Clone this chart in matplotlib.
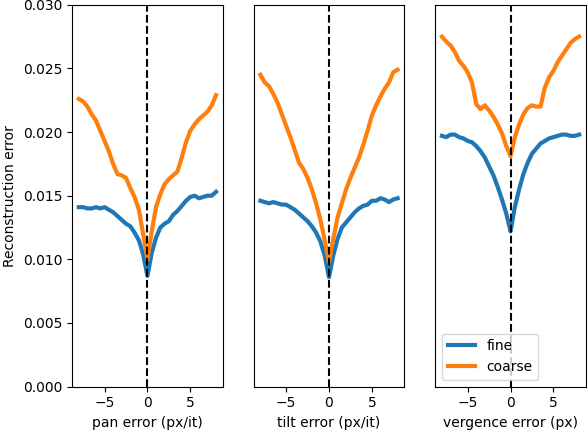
import matplotlib
matplotlib.use('Agg')
import matplotlib.pyplot as plt
import numpy as np

# offsets from -8 to 8 in steps of 0.5
errors = np.arange(-8, 8.01, 0.5)

pan_fine = [0.0141, 0.0141, 0.0140, 0.0140, 0.0141, 0.0140, 0.0141, 0.0139, 0.0137,
            0.0134, 0.0131, 0.0128, 0.0126, 0.0121, 0.0115, 0.0104, 0.0087, 0.0105,
            0.0117, 0.0125, 0.0128, 0.0130, 0.0135, 0.0138, 0.0142, 0.0146, 0.0149,
            0.0150, 0.0148, 0.0149, 0.0150, 0.0150, 0.0153]
pan_coarse = [0.0226, 0.0224, 0.0220, 0.0214, 0.0209, 0.0201, 0.0193, 0.0185, 0.0175,
              0.0167, 0.0166, 0.0164, 0.0156, 0.0149, 0.0139, 0.0120, 0.0100, 0.0122,
              0.0141, 0.0151, 0.0159, 0.0163, 0.0166, 0.0169, 0.0180, 0.0192, 0.0201,
              0.0206, 0.0210, 0.0213, 0.0216, 0.0221, 0.0229]

tilt_fine = [0.0146, 0.0145, 0.0144, 0.0145, 0.0144, 0.0143, 0.0143, 0.0141, 0.0139,
             0.0136, 0.0133, 0.0130, 0.0126, 0.0121, 0.0114, 0.0103, 0.0086, 0.0103,
             0.0116, 0.0125, 0.0129, 0.0133, 0.0137, 0.0140, 0.0142, 0.0143, 0.0146,
             0.0146, 0.0148, 0.0147, 0.0145, 0.0147, 0.0148]
tilt_coarse = [0.0245, 0.0239, 0.0236, 0.0230, 0.0223, 0.0214, 0.0205, 0.0196, 0.0186,
               0.0176, 0.0171, 0.0164, 0.0155, 0.0144, 0.0131, 0.0115, 0.0098, 0.0116,
               0.0133, 0.0144, 0.0155, 0.0164, 0.0172, 0.0180, 0.0190, 0.0201, 0.0213,
               0.0221, 0.0228, 0.0234, 0.0239, 0.0247, 0.0249]

verg_fine = [0.0197, 0.0196, 0.0198, 0.0198, 0.0196, 0.0195, 0.0193, 0.0192, 0.0189,
             0.0185, 0.0180, 0.0173, 0.0166, 0.0157, 0.0147, 0.0136, 0.0122, 0.0141,
             0.0155, 0.0167, 0.0176, 0.0183, 0.0187, 0.0191, 0.0193, 0.0195, 0.0196,
             0.0197, 0.0198, 0.0198, 0.0197, 0.0197, 0.0198]
verg_coarse = [0.0275, 0.0271, 0.0268, 0.0263, 0.0256, 0.0252, 0.0247, 0.0239, 0.0222,
               0.0218, 0.0221, 0.0217, 0.0212, 0.0206, 0.0199, 0.0189, 0.0181, 0.0196,
               0.0206, 0.0214, 0.0219, 0.0221, 0.0220, 0.0220, 0.0235, 0.0243, 0.0248,
               0.0255, 0.0260, 0.0265, 0.0270, 0.0273, 0.0275]

xlabels = ['pan error (px/it)', 'tilt error (px/it)', 'vergence error (px)']
fine_sets = [pan_fine, tilt_fine, verg_fine]
coarse_sets = [pan_coarse, tilt_coarse, verg_coarse]

fig, axes = plt.subplots(1, 3, sharey=True, figsize=(5.88, 4.32), dpi=100)
fig.subplots_adjust(left=0.1224, right=0.9966, bottom=0.105, top=0.989, wspace=0.203)

for ax, lab, fine, coarse in zip(axes, xlabels, fine_sets, coarse_sets):
    ax.plot(errors, fine, color='C0', linewidth=3, label='fine')
    ax.plot(errors, coarse, color='C1', linewidth=3, label='coarse')
    ax.axvline(0, color='k', linestyle='--', linewidth=1.5)
    ax.set_xlabel(lab)
    ax.set_xticks([-5, 0, 5])

axes[0].set_ylim(0, 0.03)
axes[0].set_ylabel('Reconstruction error')
for ax in axes[1:]:
    ax.tick_params(axis='y', left=False, labelleft=False)
axes[2].legend(loc='lower left')

plt.savefig('out.png')
